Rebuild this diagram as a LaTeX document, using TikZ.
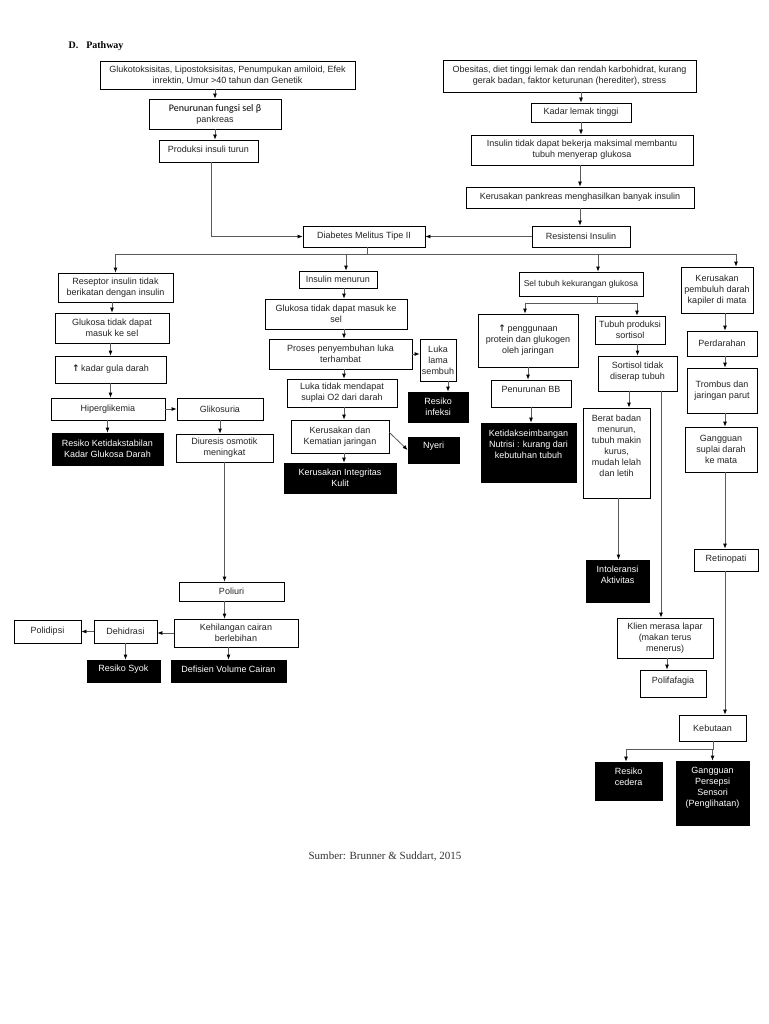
\documentclass[tikz,border=0pt]{standalone}
\usepackage{fontspec}
\setmainfont{Liberation Sans}
\newfontfamily\timesfont{Liberation Serif}
\newfontfamily\calibfont{Carlito}
\newfontfamily\arrowfont{DejaVu Sans}
\usetikzlibrary{arrows.meta, calc}

\definecolor{textgray}{RGB}{35, 35, 35}
\definecolor{linegray}{RGB}{90, 90, 90}

\tikzset{
  box/.style={draw=black, line width=0.8pt, fill=white, text=textgray, align=center,
    inner sep=0pt, font=\fontsize{9}{11}\selectfont},
  riskbox/.style={box, fill=black, text=white},
  sz/.style 2 args={minimum width=#1, minimum height=#2},
  lift/.style={text depth=#1},
  flow/.style={draw=linegray, line width=0.8pt, -{Latex[length=5pt, width=4pt, color=black]}},
  link/.style={draw=linegray, line width=0.8pt},
}
\newcommand{\naik}{{\arrowfont\bfseries ↑}}

\begin{document}
\begin{tikzpicture}[x=1pt, y=-1pt]
  \fill[white] (0,0) rectangle (768,1024);
  \useasboundingbox (0,0) rectangle (768,1024);

  \node[anchor=base west, font=\timesfont\bfseries\fontsize{10}{12}\selectfont] (judul) at (65,48.5) {D.\hspace{8pt}Pathway};

  % penyebab
  \node[box, sz={255}{28}] (glukotox) at (227.5,75) {Glukotoksisitas, Lipostoksisitas, Penumpukan amiloid, Efek\\inrektin, Umur >40 tahun dan Genetik};
  \node[box, sz={132}{30}] (fungsi) at (215,114) {{\calibfont\fontsize{10}{11}\selectfont\color{black}Penurunan fungsi sel β}\\pankreas};
  \node[box, sz={99}{22}, lift=4pt] (produksi) at (208.5,151) {Produksi insuli turun};
  \node[box, sz={253}{32}] (obesitas) at (569.5,76) {Obesitas, diet tinggi lemak dan rendah karbohidrat, kurang\\gerak badan, faktor keturunan (herediter), stress};
  \node[box, sz={100}{19}] (lemak) at (581,112.5) {Kadar lemak tinggi};
  \node[box, sz={222}{30}] (bekerja) at (582,150) {Insulin tidak dapat bekerja maksimal membantu\\tubuh menyerap glukosa};
  \node[box, sz={228}{21}] (pankreas) at (580,197.5) {Kerusakan pankreas menghasilkan banyak insulin};
  \node[box, sz={98}{21}] (resistensi) at (581,236.5) {Resistensi Insulin};
  \node[box, sz={122}{21}] (dm) at (364,236.5) {Diabetes Melitus Tipe II};

  % kolom kiri
  \node[box, sz={115}{29}] (reseptor) at (115.5,287.5) {Reseptor insulin tidak\\berikatan dengan insulin};
  \node[box, sz={114}{30}] (glukosaL) at (112,328) {Glukosa tidak dapat\\masuk ke sel};
  \node[box, sz={111}{27}] (kadar) at (110.5,369.5) {\naik\,kadar gula darah};
  \node[box, sz={114}{22}] (hiper) at (108,409) {Hiperglikemia};
  \node[box, sz={86}{22}] (glikosuria) at (220,409) {Glikosuria};
  \node[riskbox, sz={111}{32}] (rkadar) at (107.5,449) {Resiko Ketidakstabilan\\Kadar Glukosa Darah};
  \node[box, sz={97}{28}] (diuresis) at (224.5,448) {Diuresis osmotik\\meningkat};
  \node[box, sz={105}{19}] (poliuri) at (231.5,591.5) {Poliuri};
  \node[box, sz={124}{28}] (kehilangan) at (236,633) {Kehilangan cairan\\berlebihan};
  \node[box, sz={63}{23}] (dehidrasi) at (125.5,631.5) {Dehidrasi};
  \node[box, sz={67}{23}] (polidipsi) at (47.5,631.5) {Polidipsi};
  \node[riskbox, sz={73}{22}, lift=6pt] (rsyok) at (123.5,671) {Resiko Syok};
  \node[riskbox, sz={115}{22}, lift=4pt] (defisien) at (228.5,671) {Defisien Volume Cairan};

  % kolom tengah
  \node[box, sz={78}{17}] (menurun) at (338,279.5) {Insulin menurun};
  \node[box, sz={142}{30}] (glukosaM) at (336,314) {Glukosa tidak dapat masuk ke\\sel};
  \node[box, sz={143}{30}] (proses) at (340.5,354) {Proses penyembuhan luka\\terhambat};
  \node[box, sz={36}{42}] (lukalama) at (438,360) {Luka\\lama\\sembuh};
  \node[riskbox, sz={60}{30}] (rinfeksi) at (438,407) {Resiko\\infeksi};
  \node[box, sz={110}{28}] (lukatidak) at (342,393) {Luka tidak mendapat\\suplai O2 dari darah};
  \node[box, sz={98}{33}] (kematian) at (340,436.5) {Kerusakan dan\\Kematian jaringan};
  \node[riskbox, sz={51}{26}, lift=10pt] (nyeri) at (433.5,450) {Nyeri};
  \node[riskbox, sz={112}{30}] (kulit) at (340,478) {Kerusakan Integritas\\Kulit};

  % kolom kanan tengah
  \node[box, sz={124}{24}, font=\fontsize{8.5}{10}\selectfont] (sel) at (581,284) {Sel tubuh kekurangan glukosa};
  \node[box, sz={100}{53}] (protein) at (528,340.5) {\naik\,penggunaan\\protein dan glukogen\\oleh jaringan};
  \node[box, sz={70}{28}] (sortisol) at (630,330) {Tubuh produksi\\sortisol};
  \node[box, sz={80}{27}, lift=8pt] (bb) at (531,393.5) {Penurunan BB};
  \node[riskbox, sz={95}{59}, lift=16pt] (nutrisi) at (528.5,452.5) {Ketidakseimbangan\\Nutrisi : kurang dari\\kebutuhan tubuh};
  \node[box, sz={79}{35}, lift=5pt] (sortisolT) at (637.5,373.5) {Sortisol tidak\\diserap tubuh};
  \node[box, sz={67}{90}, lift=14pt] (berat) at (616.5,453) {Berat badan\\menurun,\\tubuh makin\\kurus,\\mudah lelah\\dan letih};
  \node[riskbox, sz={63}{42}, lift=12pt] (intoleransi) at (617.5,581) {Intoleransi\\Aktivitas};
  \node[box, sz={96}{40}] (klien) at (665,638) {Klien merasa lapar\\(makan terus\\menerus)};
  \node[box, sz={66}{27}, lift=7pt] (polifagia) at (673,683.5) {Polifafagia};

  % kolom kanan
  \node[box, sz={72}{46}] (pembuluh) at (717,290) {Kerusakan\\pembuluh darah\\kapiler di mata};
  \node[box, sz={70}{25}] (perdarahan) at (722,343.5) {Perdarahan};
  \node[box, sz={70}{45}] (trombus) at (722,390.5) {Trombus dan\\jaringan parut};
  \node[box, sz={72}{45}] (gangguan) at (721,449.5) {Gangguan\\suplai darah\\ke mata};
  \node[box, sz={64}{22}, lift=4pt] (retinopati) at (726,560) {Retinopati};
  \node[box, sz={67}{26}] (kebutaan) at (712.5,728) {Kebutaan};
  \node[riskbox, sz={67}{38}, lift=8pt] (cedera) at (628.5,781) {Resiko\\cedera};
  \node[riskbox, sz={73}{64}, lift=12pt] (persepsi) at (712.5,793) {Gangguan\\Persepsi\\Sensori\\(Penglihatan)};

  \node[font=\timesfont\fontsize{11}{13}\selectfont, text=black!80] (sumber) at (385,857) {Sumber: Brunner \& Suddart, 2015};

  % panah atas
  \draw[flow] (fungsi.north |- glukotox.south) -- (fungsi.north);
  \draw[flow] (fungsi.south) -- (fungsi.south |- produksi.north);
  \draw[flow] ([xshift=3pt]produksi.south) |- (dm.west);
  \draw[flow] (lemak.north |- obesitas.south) -- (lemak.north);
  \draw[flow] (lemak.south) -- (lemak.south |- bekerja.north);
  \draw[flow] (pankreas.north |- bekerja.south) -- (pankreas.north);
  \draw[flow] (pankreas.south) -- (pankreas.south |- resistensi.north);
  \draw[flow] (resistensi.west) -- (dm.east);

  % percabangan DM
  \coordinate (dmsplit) at (367,254);
  \draw[link] (dmsplit |- dm.south) -- (dmsplit);
  \draw[flow] (dmsplit) -| (reseptor.north);
  \draw[flow] (dmsplit) -| ([xshift=8pt]menurun.north);
  \draw[flow] (dmsplit) -| ([xshift=17pt]sel.north);
  \draw[flow] (dmsplit) -| ([xshift=19pt]pembuluh.north);

  % kiri
  \draw[flow] (glukosaL.north |- reseptor.south) -- (glukosaL.north);
  \draw[flow] (kadar.north |- glukosaL.south) -- (kadar.north);
  \draw[flow] (kadar.south) -- (kadar.south |- hiper.north);
  \draw[flow] (rkadar.north |- hiper.south) -- (rkadar.north);
  \draw[flow] (hiper.east) -- (glikosuria.west);
  \draw[flow] (glikosuria.south) -- (glikosuria.south |- diuresis.north);
  \draw[flow] (diuresis.south) -- (diuresis.south |- poliuri.north);
  \draw[flow] (diuresis.south |- poliuri.south) -- (diuresis.south |- kehilangan.north);
  \draw[flow] (kehilangan.west) -- (kehilangan.west -| dehidrasi.east);
  \draw[flow] (dehidrasi.west) -- (polidipsi.east);
  \draw[flow] (dehidrasi.south) -- (dehidrasi.south |- rsyok.north);
  \draw[flow] (defisien.north |- kehilangan.south) -- (defisien.north);

  % tengah
  \coordinate (midx) at (344,0);
  \draw[flow] (midx |- menurun.south) -- (midx |- glukosaM.north);
  \draw[flow] (midx |- glukosaM.south) -- (midx |- proses.north);
  \draw[flow] (midx |- proses.south) -- (midx |- lukatidak.north);
  \draw[flow] (midx |- lukatidak.south) -- (midx |- kematian.north);
  \draw[flow] (midx |- kematian.south) -- (midx |- kulit.north);
  \draw[flow] (proses.east) -- (proses.east -| lukalama.west);
  \draw[flow] ([xshift=10pt]lukalama.south) -- ([xshift=10pt]rinfeksi.north);
  \draw[flow] ([yshift=4pt]kematian.east) -- (nyeri.west);

  % kanan tengah
  \coordinate (selsplit) at (597,303);
  \draw[link] (selsplit |- sel.south) -- (selsplit);
  \draw[flow] (selsplit) -| ([xshift=-3pt]protein.north);
  \draw[flow] (selsplit) -| ([xshift=7pt]sortisol.north);
  \draw[flow] (protein.south) -- (protein.south |- bb.north);
  \draw[flow] (bb.south) -- (bb.south |- nutrisi.north);
  \draw[flow] (sortisolT.north |- sortisol.south) -- (sortisolT.north);
  \draw[flow] ([xshift=-8.5pt]sortisolT.south) -- ([xshift=-8.5pt]sortisolT.south |- berat.north);
  \draw[flow] ([xshift=23.5pt]sortisolT.south) -- ([xshift=23.5pt]sortisolT.south |- klien.north);
  \draw[flow] ([xshift=2pt]berat.south) -- ([xshift=2pt]berat.south |- intoleransi.north);
  \draw[flow] ([xshift=2pt]klien.south) -- ([xshift=2pt]klien.south |- polifagia.north);

  % kanan
  \coordinate (eyex) at (725,0);
  \draw[flow] (eyex |- pembuluh.south) -- (eyex |- perdarahan.north);
  \draw[flow] (eyex |- perdarahan.south) -- (eyex |- trombus.north);
  \draw[flow] (eyex |- trombus.south) -- (eyex |- gangguan.north);
  \draw[flow] (eyex |- gangguan.south) -- (eyex |- retinopati.north);
  \draw[flow] (eyex |- retinopati.south) -- (eyex |- kebutaan.north);
  \coordinate (butasplit) at (713,749);
  \draw[link] (butasplit |- kebutaan.south) -- (butasplit);
  \draw[flow] (butasplit) -| ([xshift=-2.5pt]cedera.north);
  \draw[flow] (butasplit) -| (persepsi.north);
\end{tikzpicture}
\end{document}
